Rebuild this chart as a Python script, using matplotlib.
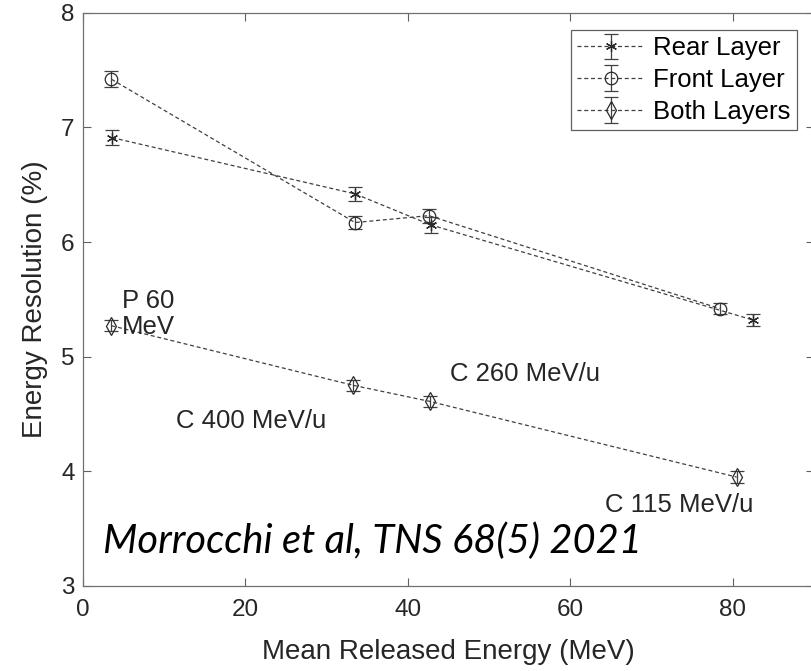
import matplotlib
matplotlib.use("Agg")
import matplotlib.pyplot as plt

plt.rcParams['font.family'] = ['Liberation Sans', 'DejaVu Sans']

# Mean released energy (MeV) and energy resolution (%) per detector configuration
rear_x = [3.6, 33.5, 42.8, 82.5]
rear_y = [6.91, 6.42, 6.15, 5.32]
rear_err = [0.065, 0.06, 0.07, 0.05]

front_x = [3.5, 33.5, 42.6, 78.4]
front_y = [7.42, 6.17, 6.23, 5.42]
front_err = [0.07, 0.055, 0.06, 0.05]

both_x = [3.5, 33.3, 42.7, 80.5]
both_y = [5.27, 4.75, 4.61, 3.95]
both_err = [0.05, 0.05, 0.05, 0.05]

series_labels = ["Rear Layer", "Front Layer", "Both Layers"]

# Beam annotations: (text, x, y)
beam_notes = [
    ("P 60\nMeV", 4.8, 5.37),
    ("C 400 MeV/u", 11.5, 4.44),
    ("C 260 MeV/u", 45.2, 4.85),
    ("C 115 MeV/u", 64.3, 3.71),
]
citation = "Morrocchi et al, TNS 68(5) 2021"

xticks = [0, 20, 40, 60, 80]
yticks = [3, 4, 5, 6, 7, 8]

W, H, DPI = 812, 671, 100
fig = plt.figure(figsize=(W / DPI, H / DPI), dpi=DPI)
ax = fig.add_axes([83 / W, 1 - 586 / H, 730.8 / W, 573.3 / H])

line_col = "#404040"
asterisk = (6, 2, 0)
common = dict(color=line_col, ls=(0, (3.2, 2.2)), lw=0.9, capsize=5,
              elinewidth=0.9, capthick=0.9, mfc="none", mec="#2a2a2a", mew=0.9)

ax.errorbar(rear_x, rear_y, yerr=rear_err, marker=asterisk, ms=8,
            label=series_labels[0], **common)
ax.errorbar(front_x, front_y, yerr=front_err, marker="o", ms=9,
            label=series_labels[1], **common)
ax.errorbar(both_x, both_y, yerr=both_err, marker="d", ms=9,
            label=series_labels[2], **common)

ax.set_xlim(0, 90)
ax.set_ylim(3, 8)
ax.set_xticks(xticks)
ax.set_yticks(yticks)

text_col = "#262626"
ax.tick_params(direction="in", length=6, width=0.8, colors="#606060",
               labelcolor=text_col, labelsize=17.5, pad=6,
               top=True, right=True)
ax.tick_params(axis="x", pad=9)
for sp in ax.spines.values():
    sp.set_color("#707070")
    sp.set_linewidth(0.9)

ax.set_xlabel("Mean Released Energy (MeV)", fontsize=20, color=text_col, va="center")
ax.set_ylabel("Energy Resolution (%)", fontsize=20, color=text_col, va="center")
ax.xaxis.set_label_coords(0.5, -0.115)
ax.yaxis.set_label_coords(-0.066, 0.5)

for txt, x, y in beam_notes:
    ax.text(x, y, txt, fontsize=18.5, color=text_col, ha="left", va="center",
            linespacing=1.1)

# Citation in italics, sized to span the intended width
cit = ax.text(2.46, 3.39, citation, fontsize=30, style="italic",
              family=["Lato", "DejaVu Sans"], color="black",
              ha="left", va="center")
fig.canvas.draw()
w = cit.get_window_extent().width
cit.set_fontsize(30 * 539 / w)

leg = ax.legend(loc="upper right", bbox_to_anchor=(0.9766, 0.9698),
                borderaxespad=0, fontsize=18.5, handlelength=2.6,
                handletextpad=0.35, labelspacing=0.3, borderpad=0.25,
                fancybox=False, framealpha=1, edgecolor="#606060")
leg.get_frame().set_linewidth(0.9)
for t in leg.get_texts():
    t.set_color("black")

fig.savefig("out.png", dpi=DPI)
